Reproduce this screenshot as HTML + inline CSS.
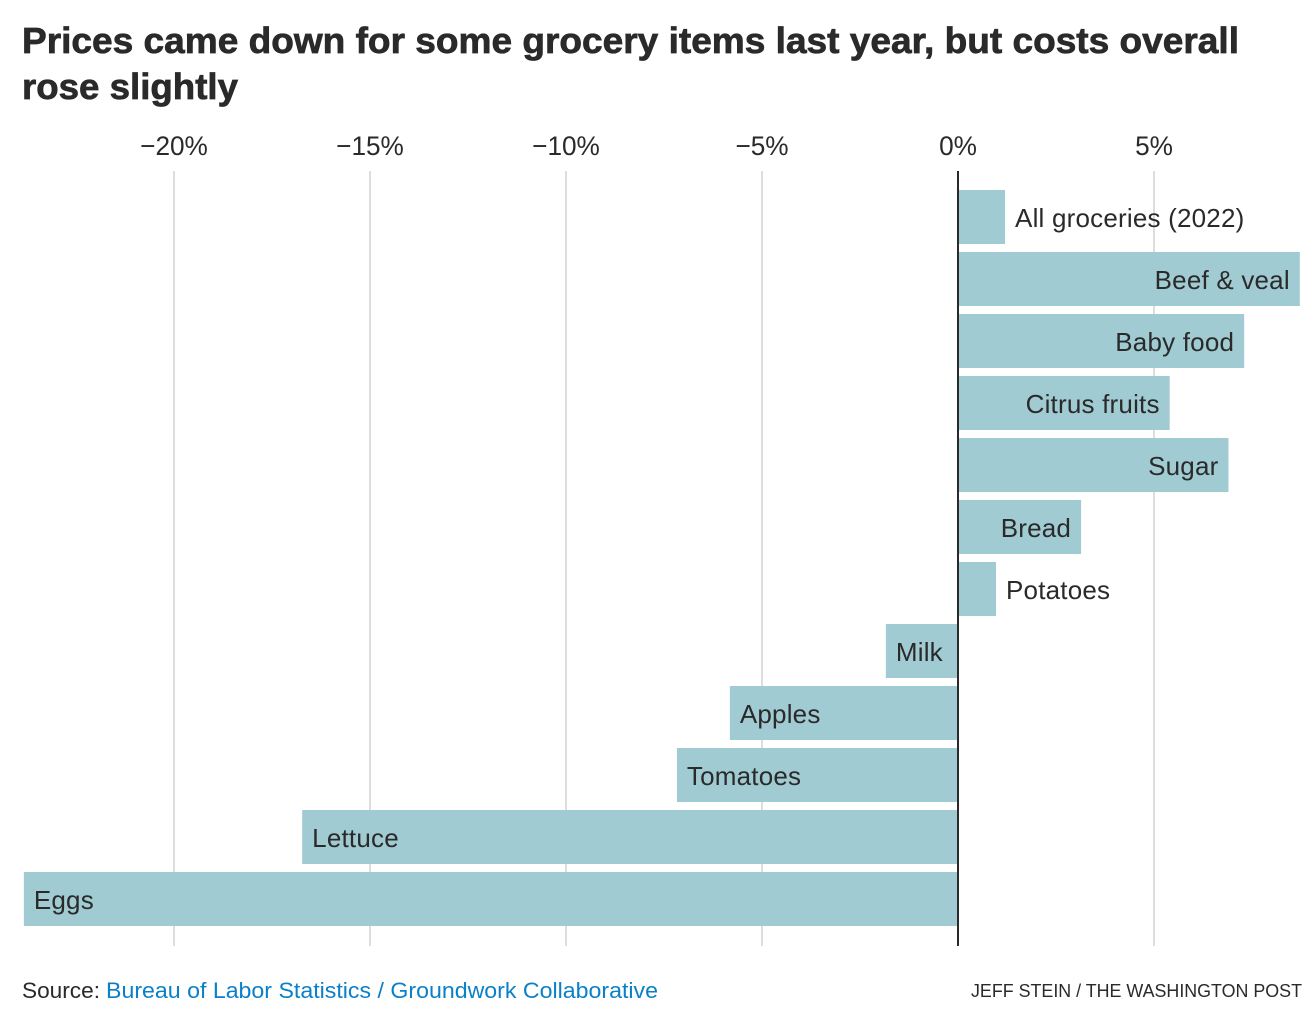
<!DOCTYPE html>
<html lang="en">
<head>
<meta charset="utf-8">
<title>Grocery prices chart</title>
<style>
  html, body { margin: 0; padding: 0; background: #fff; }
  svg { display: block; font-family: "Liberation Sans", sans-serif; }
  text { fill: #2a2a2a; }
  a text { fill: #0a80c8; }
</style>
</head>
<body>
<svg id="chart" width="1314" height="1022" viewBox="0 0 1314 1022" xmlns="http://www.w3.org/2000/svg">
  <rect width="1314" height="1022" fill="#ffffff"></rect>
  <text x="22" y="53" font-size="36" font-weight="700" stroke="#2a2a2a" stroke-width="0.7" textLength="1217" lengthAdjust="spacingAndGlyphs">Prices came down for some grocery items last year, but costs overall</text>
  <text x="22" y="99" font-size="36" font-weight="700" stroke="#2a2a2a" stroke-width="0.7" textLength="216" lengthAdjust="spacingAndGlyphs">rose slightly</text>
  <g id="grid"></g>
  <g id="ticks"></g>
  <g id="bars"></g>
  <g id="labels"></g>
  <line id="zero" y1="171" y2="946" stroke="#2a2a2a" stroke-width="2"></line>
  <text x="22" y="998" font-size="22" textLength="78" lengthAdjust="spacingAndGlyphs">Source:</text>
  <a href="#">
    <text x="106" y="998" font-size="22" textLength="552" lengthAdjust="spacingAndGlyphs">Bureau of Labor Statistics / Groundwork Collaborative</text>
  </a>
  <text x="971" y="997" font-size="18.5" textLength="331" lengthAdjust="spacingAndGlyphs">JEFF STEIN / THE WASHINGTON POST</text>
</svg>
<script>
const categories = ['All groceries (2022)', 'Beef & veal', 'Baby food', 'Citrus fruits', 'Sugar', 'Bread', 'Potatoes', 'Milk', 'Apples', 'Tomatoes', 'Lettuce', 'Eggs'];
const priceChange = [1.2, 8.72, 7.3, 5.4, 6.9, 3.14, 0.97, -1.84, -5.82, -7.17, -16.73, -23.83];
const tickValues = [-20, -15, -10, -5, 0, 5];
const tickLabels = ['\u221220%', '\u221215%', '\u221210%', '\u22125%', '0%', '5%'];

const SVG_NS = 'http://www.w3.org/2000/svg';
const ZERO_X = 958;
const PX_PER_UNIT = 39.2;
const FIRST_BAR_Y = 190;
const BAR_STEP = 62;
const BAR_HEIGHT = 54;
const LABEL_PAD = 10;

function xScale(value) {
  return ZERO_X + value * PX_PER_UNIT;
}
function yScale(index) {
  return FIRST_BAR_Y + index * BAR_STEP;
}
function slug(text) {
  return text.toLowerCase().replace(/[^a-z0-9]+/g, '-').replace(/^-|-$/g, '');
}
function make(tag, attrs) {
  const el = document.createElementNS(SVG_NS, tag);
  Object.keys(attrs).forEach(function (k) { el.setAttribute(k, attrs[k]); });
  return el;
}

const gridGroup = document.getElementById('grid');
const tickGroup = document.getElementById('ticks');
const barGroup = document.getElementById('bars');
const labelGroup = document.getElementById('labels');

const zero = document.getElementById('zero');
zero.setAttribute('x1', xScale(0));
zero.setAttribute('x2', xScale(0));

tickValues.forEach(function (value, i) {
  const x = xScale(value);
  if (value !== 0) {
    const line = make('line', { x1: x, x2: x, y1: 171, y2: 946, stroke: '#dddddd', 'stroke-width': 2 });
    
    
    gridGroup.appendChild(line);
  }
  const tick = make('text', { transform: 'translate(' + x + ',155) scale(0.97,1)', 'font-size': 27, 'text-anchor': 'middle' });
  tick.textContent = tickLabels[i];
  
  
  tickGroup.appendChild(tick);
});

categories.forEach(function (name, i) {
  const value = priceChange[i];
  const x0 = xScale(Math.min(0, value));
  const x1 = xScale(Math.max(0, value));
  const y = yScale(i);
  const bar = make('rect', { x: x0, y: y, width: x1 - x0, height: BAR_HEIGHT, fill: '#a0cbd2' });
  
  
  barGroup.appendChild(bar);

  const label = make('text', { y: y + 37, 'font-size': 26, 'letter-spacing': 0.2 });
  label.textContent = name;
  
  
  labelGroup.appendChild(label);
  const textWidth = label.getComputedTextLength();
  const fits = (x1 - x0) >= textWidth + LABEL_PAD * 2;
  if (value < 0) {
    label.setAttribute('x', x0 + LABEL_PAD);
  } else if (fits) {
    label.setAttribute('x', x1 - LABEL_PAD);
    label.setAttribute('text-anchor', 'end');
  } else {
    label.setAttribute('x', x1 + LABEL_PAD);
  }
});
</script>
</body>
</html>
